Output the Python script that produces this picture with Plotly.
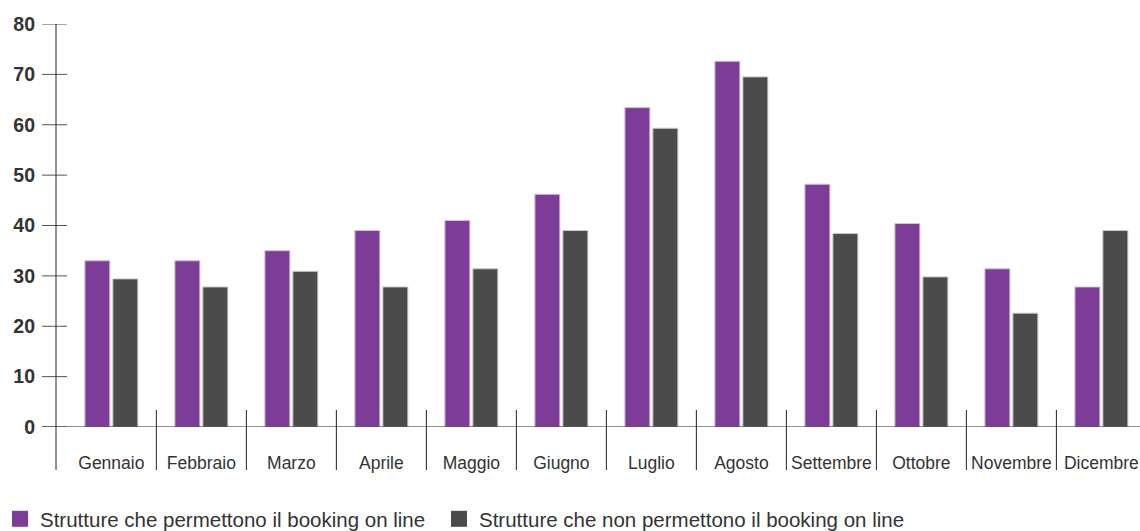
import plotly.graph_objects as go

months = ["Gennaio", "Febbraio", "Marzo", "Aprile", "Maggio", "Giugno",
          "Luglio", "Agosto", "Settembre", "Ottobre", "Novembre", "Dicembre"]
online = [33, 33, 35, 39, 41, 46.2, 63.4, 72.6, 48.2, 40.4, 31.4, 27.8]
offline = [29.4, 27.8, 30.9, 27.8, 31.4, 39, 59.3, 69.5, 38.4, 29.8, 22.6, 39]
series_names = ["Strutture che permettono il booking on line",
                "Strutture che non permettono il booking on line"]
colors = ["#7D3C97", "#4B4B4B"]
yticks = [0, 10, 20, 30, 40, 50, 60, 70, 80]

W, H = 1140, 531
ml, mr, mt, mb = 56, 0, 24, 104
pw = W - ml - mr
ph = H - mt - mb

x = list(range(len(months)))
fig = go.Figure()
fig.add_trace(go.Bar(x=x, y=online, name=series_names[0], showlegend=False,
                     marker=dict(color=colors[0], line=dict(color="#d0c4d6", width=1))))
fig.add_trace(go.Bar(x=x, y=offline, name=series_names[1], showlegend=False,
                     marker=dict(color=colors[1], line=dict(color="#c8c8c8", width=1))))
# legend entries with larger square symbols
for name, c, lg in zip(series_names, colors, ["legend", "legend2"]):
    fig.add_trace(go.Scatter(x=[None], y=[None], mode="markers", name=name, legend=lg,
                             marker=dict(symbol="square", size=16, color=c)))

shapes = []
for t in yticks:
    shapes.append(dict(type="line", xref="paper", yref="y", x0=-14 / pw, x1=11 / pw,
                       y0=t, y1=t, line=dict(color="#555555", width=1)))
shapes.append(dict(type="line", xref="paper", yref="y", x0=-14 / pw, x1=1, y0=0, y1=0,
                   line=dict(color="#222222", width=1)))
shapes.append(dict(type="line", xref="paper", yref="paper", x0=0, x1=0, y0=-43 / ph, y1=1,
                   line=dict(color="#222222", width=1)))
for i in range(len(months) - 1):
    shapes.append(dict(type="line", xref="x", yref="paper", x0=i + 0.5, x1=i + 0.5,
                       y0=-43 / ph, y1=17 / ph, line=dict(color="#222222", width=1)))

legend_common = dict(orientation="h", xref="container", yref="container",
                     xanchor="left", y=(H - 519) / H, yanchor="middle",
                     font=dict(size=20.5, color="#333333"), itemwidth=30,
                     bgcolor="rgba(0,0,0,0)")

fig.update_layout(
    width=W, height=H,
    margin=dict(l=ml, r=mr, t=mt, b=mb, autoexpand=False),
    paper_bgcolor="white", plot_bgcolor="white",
    barmode="group", bargap=0.378, bargroupgap=0.107,
    font=dict(family="Liberation Sans, Arial, sans-serif", color="#333333"),
    shapes=shapes,
    showlegend=True,
    legend=dict(x=-4 / W, **legend_common),
    legend2=dict(x=439 / W, **legend_common),
    xaxis=dict(tickmode="array", tickvals=x, ticktext=months, range=[-0.615, 11.429],
               showline=False, showgrid=False, zeroline=False, ticks="",
               tickfont=dict(size=17.5, color="#333333"), ticklabelstandoff=23, fixedrange=True),
    yaxis=dict(range=[0, 80], tickvals=yticks, showline=False, showgrid=False, zeroline=False,
               ticks="", tickfont=dict(size=19.5, color="#333333", weight="bold"),
               ticklabelstandoff=20, fixedrange=True),
)
fig.write_html("out.html")
